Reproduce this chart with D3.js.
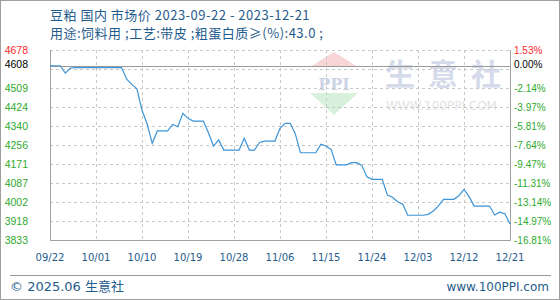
<!DOCTYPE html>
<html>
<head>
<meta charset="utf-8">
<script src="https://cdn.jsdelivr.net/npm/d3@7/dist/d3.min.js"></script>
<style>
  html, body { margin: 0; padding: 0; background: #fff; }
  svg { display: block; }
</style>
</head>
<body>
<svg id="chart" width="560" height="300"></svg>
<script>
// ---------- data ----------
const titleText = "豆粕 国内 市场价 2023-09-22 - 2023-12-21";
const subtitleText = "用途:饲料用 ;工艺:带皮 ;粗蛋白质≥(%):43.0 ;";
const baseValue = 4608;
const baseLabelRight = "0.00%";

const dates = [
  "2023-09-22","2023-09-24","2023-09-25","2023-09-26","2023-09-27","2023-10-06","2023-10-07",
  "2023-10-08","2023-10-09","2023-10-10","2023-10-11","2023-10-12","2023-10-13","2023-10-15",
  "2023-10-16","2023-10-17","2023-10-18","2023-10-19","2023-10-20","2023-10-22","2023-10-23",
  "2023-10-24","2023-10-25","2023-10-26","2023-10-29","2023-10-30","2023-10-31","2023-11-01",
  "2023-11-02","2023-11-03","2023-11-05","2023-11-06","2023-11-07","2023-11-08","2023-11-09",
  "2023-11-10","2023-11-13","2023-11-14","2023-11-15","2023-11-16","2023-11-17","2023-11-19",
  "2023-11-20","2023-11-21","2023-11-22","2023-11-23","2023-11-24","2023-11-26","2023-11-27",
  "2023-11-28","2023-11-29","2023-11-30","2023-12-01","2023-12-04","2023-12-05","2023-12-06",
  "2023-12-07","2023-12-08","2023-12-10","2023-12-11","2023-12-12","2023-12-13","2023-12-14",
  "2023-12-17","2023-12-18","2023-12-19","2023-12-20","2023-12-21"
];
const prices = [
  4608,4608,4575,4598,4600,4600,4548,
  4525,4505,4410,4350,4263,4318,4318,
  4347,4337,4396,4374,4362,4362,4310,
  4251,4278,4233,4233,4285,4233,4233,
  4267,4273,4273,4330,4352,4352,4305,
  4221,4221,4259,4251,4236,4167,4167,
  4177,4177,4165,4114,4103,4103,4033,
  4023,4003,3992,3943,3943,3947,3962,
  3985,4014,4014,4030,4058,4026,3984,
  3984,3944,3957,3950,3904
];

const yTickValues = [3833, 3917.5, 4002, 4086.5, 4171, 4255.5, 4340, 4424.5, 4509, 4593.5, 4678];
const yTickLabelsLeft = ["3833","3918","4002","4087","4171","4256","4340","4424","4509","","4678"];
const yTickLabelsRight = ["-16.81%","-14.97%","-13.14%","-11.31%","-9.47%","-7.64%","-5.81%","-3.97%","-2.14%","","1.53%"];
const xTickDates = ["2023-09-22","2023-10-01","2023-10-10","2023-10-19","2023-10-28","2023-11-06",
                    "2023-11-15","2023-11-24","2023-12-03","2023-12-12","2023-12-21"];
const xTickLabels = ["09/22","10/01","10/10","10/19","10/28","11/06","11/15","11/24","12/03","12/12","12/21"];

// ---------- layout ----------
const W = 560, H = 300;
const L = 50, R = 510, T = 50, B = 240;
const parse = d3.utcParse("%Y-%m-%d");
const svg = d3.select("#chart");

const x = d3.scaleUtc().domain([parse(dates[0]), parse(dates[dates.length - 1])]).range([L, R]);
const y = d3.scaleLinear().domain([3833, 4678]).range([B, T]);

const cText = "#1f5c8c";
const cGreen = "#2eaa2e";
const cRed = "#ff2a2a";
const cGrid = "#c8c8c8";

// outer border
svg.append("rect").attr("x", 0.5).attr("y", 0.5).attr("width", W - 1).attr("height", H - 1)
  .attr("fill", "#fff").attr("stroke", "#a0a0a0");

// title
svg.append("text").attr("x", 50).attr("y", 20).attr("fill", cText)
  .attr("font-family", "'Noto Sans CJK SC', sans-serif").attr("font-size", 13)
  .attr("letter-spacing", 0.5).text(titleText);
svg.append("text").attr("x", 50).attr("y", 38).attr("fill", cText)
  .attr("font-family", "'Noto Sans CJK SC', sans-serif").attr("font-size", 13)
  .attr("letter-spacing", 0.5).text(subtitleText);

// watermark
const wm = svg.append("g");
wm.append("path").attr("d", `M310,67 L358,67 L334,52 Z`).attr("fill", "#f8d6d6");
wm.append("path").attr("d", `M310,93 L358,93 L334,115 Z`).attr("fill", "#d8f1dc");
wm.append("text").attr("x", 334).attr("y", 90).attr("text-anchor", "middle")
  .attr("font-family", "'DejaVu Serif', serif").attr("font-weight", "bold")
  .attr("font-size", 16).attr("fill", "#cdd4e6").text("PPI");
wm.append("text").attr("x", 385).attr("y", 85)
  .attr("font-family", "'Noto Sans CJK SC', sans-serif").attr("font-weight", "bold")
  .attr("font-size", 30).attr("letter-spacing", 13).attr("fill", "#d5dbea").text("生意社");
wm.append("text").attr("x", 386).attr("y", 110)
  .attr("font-family", "'DejaVu Sans', sans-serif")
  .attr("font-size", 12).attr("fill", "#e2e2e2").text("WWW.100PPI.COM");

// horizontal grid
svg.append("g").selectAll("line").data(yTickValues).join("line")
  .attr("x1", L).attr("x2", R)
  .attr("y1", d => Math.round(y(d)) + 0.5).attr("y2", d => Math.round(y(d)) + 0.5)
  .attr("stroke", cGrid).attr("stroke-dasharray", "3,3");

// vertical grid
svg.append("g").selectAll("line").data(xTickDates.slice(1, -1)).join("line")
  .attr("x1", d => Math.round(x(parse(d))) + 0.5).attr("x2", d => Math.round(x(parse(d))) + 0.5)
  .attr("y1", T).attr("y2", B)
  .attr("stroke", cGrid).attr("stroke-dasharray", "3,3");

// base line
svg.append("line").attr("x1", L).attr("x2", R)
  .attr("y1", Math.round(y(baseValue)) + 0.5).attr("y2", Math.round(y(baseValue)) + 0.5)
  .attr("stroke", "#999");

// plot border
svg.append("path")
  .attr("d", `M${L + 0.5},${T} L${L + 0.5},${B + 0.5} L${R + 0.5},${B + 0.5} L${R + 0.5},${T}`)
  .attr("fill", "none").attr("stroke", "#a0a0a0");

// left axis labels
const lab = svg.append("g").attr("font-family", "'Liberation Sans', Arial, sans-serif").attr("font-size", 10.5);
lab.selectAll("text.l").data(yTickValues.map((v, i) => ({ v, t: yTickLabelsLeft[i] })).filter(d => d.t))
  .join("text").attr("class", "l")
  .attr("x", 28).attr("y", d => y(d.v)).attr("dy", "0.36em").attr("text-anchor", "end")
  .attr("fill", d => d.v > baseValue ? cRed : cGreen).text(d => d.t);
lab.append("text").attr("x", 28).attr("y", y(baseValue)).attr("dy", "0.2em").attr("text-anchor", "end")
  .attr("fill", "#000").text(String(baseValue));

// right axis labels
const labR = svg.append("g").attr("font-family", "'Liberation Sans', Arial, sans-serif").attr("font-size", 10);
labR.selectAll("text.r").data(yTickValues.map((v, i) => ({ v, t: yTickLabelsRight[i] })).filter(d => d.t))
  .join("text").attr("class", "r")
  .attr("x", 514).attr("y", d => y(d.v)).attr("dy", "0.36em")
  .attr("fill", d => d.v > baseValue ? cRed : cGreen).text(d => d.t);
labR.append("text").attr("x", 514).attr("y", y(baseValue)).attr("dy", "0.2em")
  .attr("fill", "#000").text(baseLabelRight);

// x axis labels
svg.append("g").selectAll("text").data(xTickDates.map((d, i) => ({ d, t: xTickLabels[i] }))).join("text")
  .attr("x", d => x(parse(d.d))).attr("y", 261).attr("text-anchor", "middle")
  .attr("font-family", "'DejaVu Sans', sans-serif").attr("font-size", 10)
  .attr("fill", cText).text(d => d.t);

// data line
const line = d3.line().x(d => x(d.date)).y(d => y(d.value));
const series = dates.map((d, i) => ({ date: parse(d), value: prices[i] }));
svg.append("path").datum(series).attr("d", line)
  .attr("fill", "none").attr("stroke", "#3d94d6").attr("stroke-width", 1.2);

// footer
svg.append("line").attr("x1", 10).attr("x2", 551).attr("y1", 275.5).attr("y2", 275.5).attr("stroke", "#999");
svg.append("text").attr("x", 10).attr("y", 291)
  .attr("font-family", "'DejaVu Sans', 'Noto Sans CJK SC', sans-serif").attr("font-size", 13)
  .attr("fill", cText).text("© 2025.06 生意社");
svg.append("text").attr("x", 549).attr("y", 291).attr("text-anchor", "end")
  .attr("font-family", "'DejaVu Sans', sans-serif").attr("font-size", 12)
  .attr("fill", cText).text("www.100PPI.com");
</script>
</body>
</html>
